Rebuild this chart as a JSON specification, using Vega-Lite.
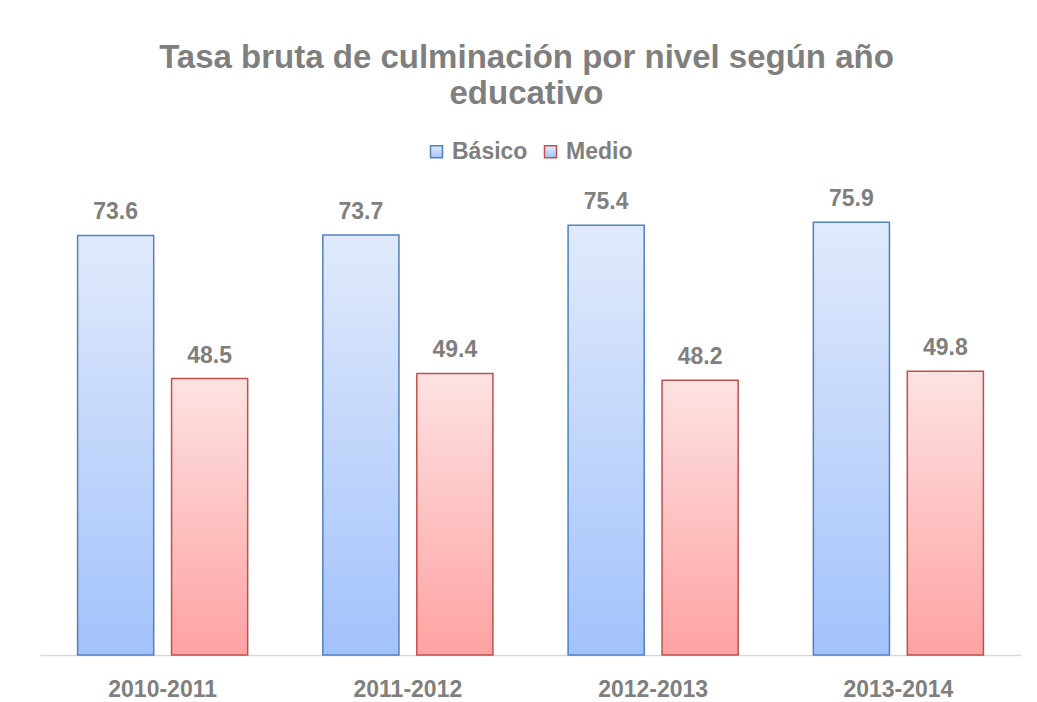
{
  "$schema": "https://vega.github.io/schema/vega-lite/v6.json",
  "autosize": "none",
  "width": 981,
  "height": 456,
  "padding": {"left": 40, "top": 199, "right": 16, "bottom": 47},
  "background": "white",
  "title": {
    "text": ["Tasa bruta de culminación por nivel según año", "educativo"],
    "font": "Liberation Sans",
    "fontSize": 33,
    "fontWeight": "bold",
    "color": "#7f7f7f",
    "anchor": "middle",
    "frame": "group",
    "lineHeight": 36,
    "offset": 0,
    "dy": -29,
    "dx": -4
  },
  "data": {
    "values": [
      {"periodo": "2010-2011", "nivel": "Básico", "tasa": 73.6},
      {"periodo": "2010-2011", "nivel": "Medio", "tasa": 48.5},
      {"periodo": "2011-2012", "nivel": "Básico", "tasa": 73.7},
      {"periodo": "2011-2012", "nivel": "Medio", "tasa": 49.4},
      {"periodo": "2012-2013", "nivel": "Básico", "tasa": 75.4},
      {"periodo": "2012-2013", "nivel": "Medio", "tasa": 48.2},
      {"periodo": "2013-2014", "nivel": "Básico", "tasa": 75.9},
      {"periodo": "2013-2014", "nivel": "Medio", "tasa": 49.8}
    ]
  },
  "encoding": {
    "x": {
      "field": "periodo",
      "type": "nominal",
      "scale": {"paddingInner": 0, "paddingOuter": 0},
      "axis": {
        "title": null,
        "labelAngle": 0,
        "ticks": false,
        "grid": false,
        "domainColor": "#d9d9d9",
        "domainWidth": 1.5,
        "labelFont": "Liberation Sans",
        "labelFontSize": 23,
        "labelFontWeight": "bold",
        "labelColor": "#7f7f7f",
        "labelBaseline": "alphabetic",
        "labelPadding": 41
      }
    },
    "xOffset": {
      "field": "nivel",
      "type": "nominal",
      "scale": {"domain": ["Básico", "Medio"], "paddingInner": 0.19, "paddingOuter": 0.4}
    },
    "y": {
      "field": "tasa",
      "type": "quantitative",
      "scale": {"domain": [0, 80], "nice": false},
      "axis": null
    },
    "stroke": {
      "field": "nivel",
      "type": "nominal",
      "scale": {"domain": ["Básico", "Medio"], "range": ["#4f81bd", "#c0504d"]},
      "legend": {
        "title": null,
        "orient": "none",
        "legendX": 385,
        "legendY": -59,
        "direction": "horizontal",
        "symbolType": "square",
        "symbolSize": 144,
        "symbolStrokeWidth": 1.5,
        "labelFont": "Liberation Sans",
        "labelFontSize": 23,
        "labelFontWeight": "bold",
        "labelColor": "#7f7f7f",
        "labelOffset": 4,
        "columnPadding": 11,
        "encode": {
          "symbols": {
            "update": {
              "fill": {"signal": "datum.value === 'Básico' ? '#c6d8fb' : '#fec4c4'"},
              "fillOpacity": {"value": 1}
            }
          }
        }
      }
    }
  },
  "layer": [
    {
      "transform": [{"filter": "datum.nivel === 'Básico'"}],
      "mark": {
        "type": "bar",
        "strokeWidth": 1.5,
        "fill": {"gradient": "linear", "x1": 0, "y1": 0, "x2": 0, "y2": 1,
          "stops": [{"offset": 0, "color": "#e0eafb"}, {"offset": 1, "color": "#a3c2fb"}]}
      }
    },
    {
      "transform": [{"filter": "datum.nivel === 'Medio'"}],
      "mark": {
        "type": "bar",
        "strokeWidth": 1.5,
        "fill": {"gradient": "linear", "x1": 0, "y1": 0, "x2": 0, "y2": 1,
          "stops": [{"offset": 0, "color": "#fde2e2"}, {"offset": 1, "color": "#ffa2a2"}]}
      }
    },
    {
      "mark": {
        "type": "text",
        "font": "Liberation Sans",
        "fontSize": 23,
        "fontWeight": "bold",
        "fill": "#7f7f7f",
        "baseline": "alphabetic",
        "dy": -16
      },
      "encoding": {
        "text": {"field": "tasa", "type": "quantitative", "format": ".1f"},
        "stroke": {"value": null}
      }
    }
  ],
  "config": {"view": {"stroke": null}}
}
